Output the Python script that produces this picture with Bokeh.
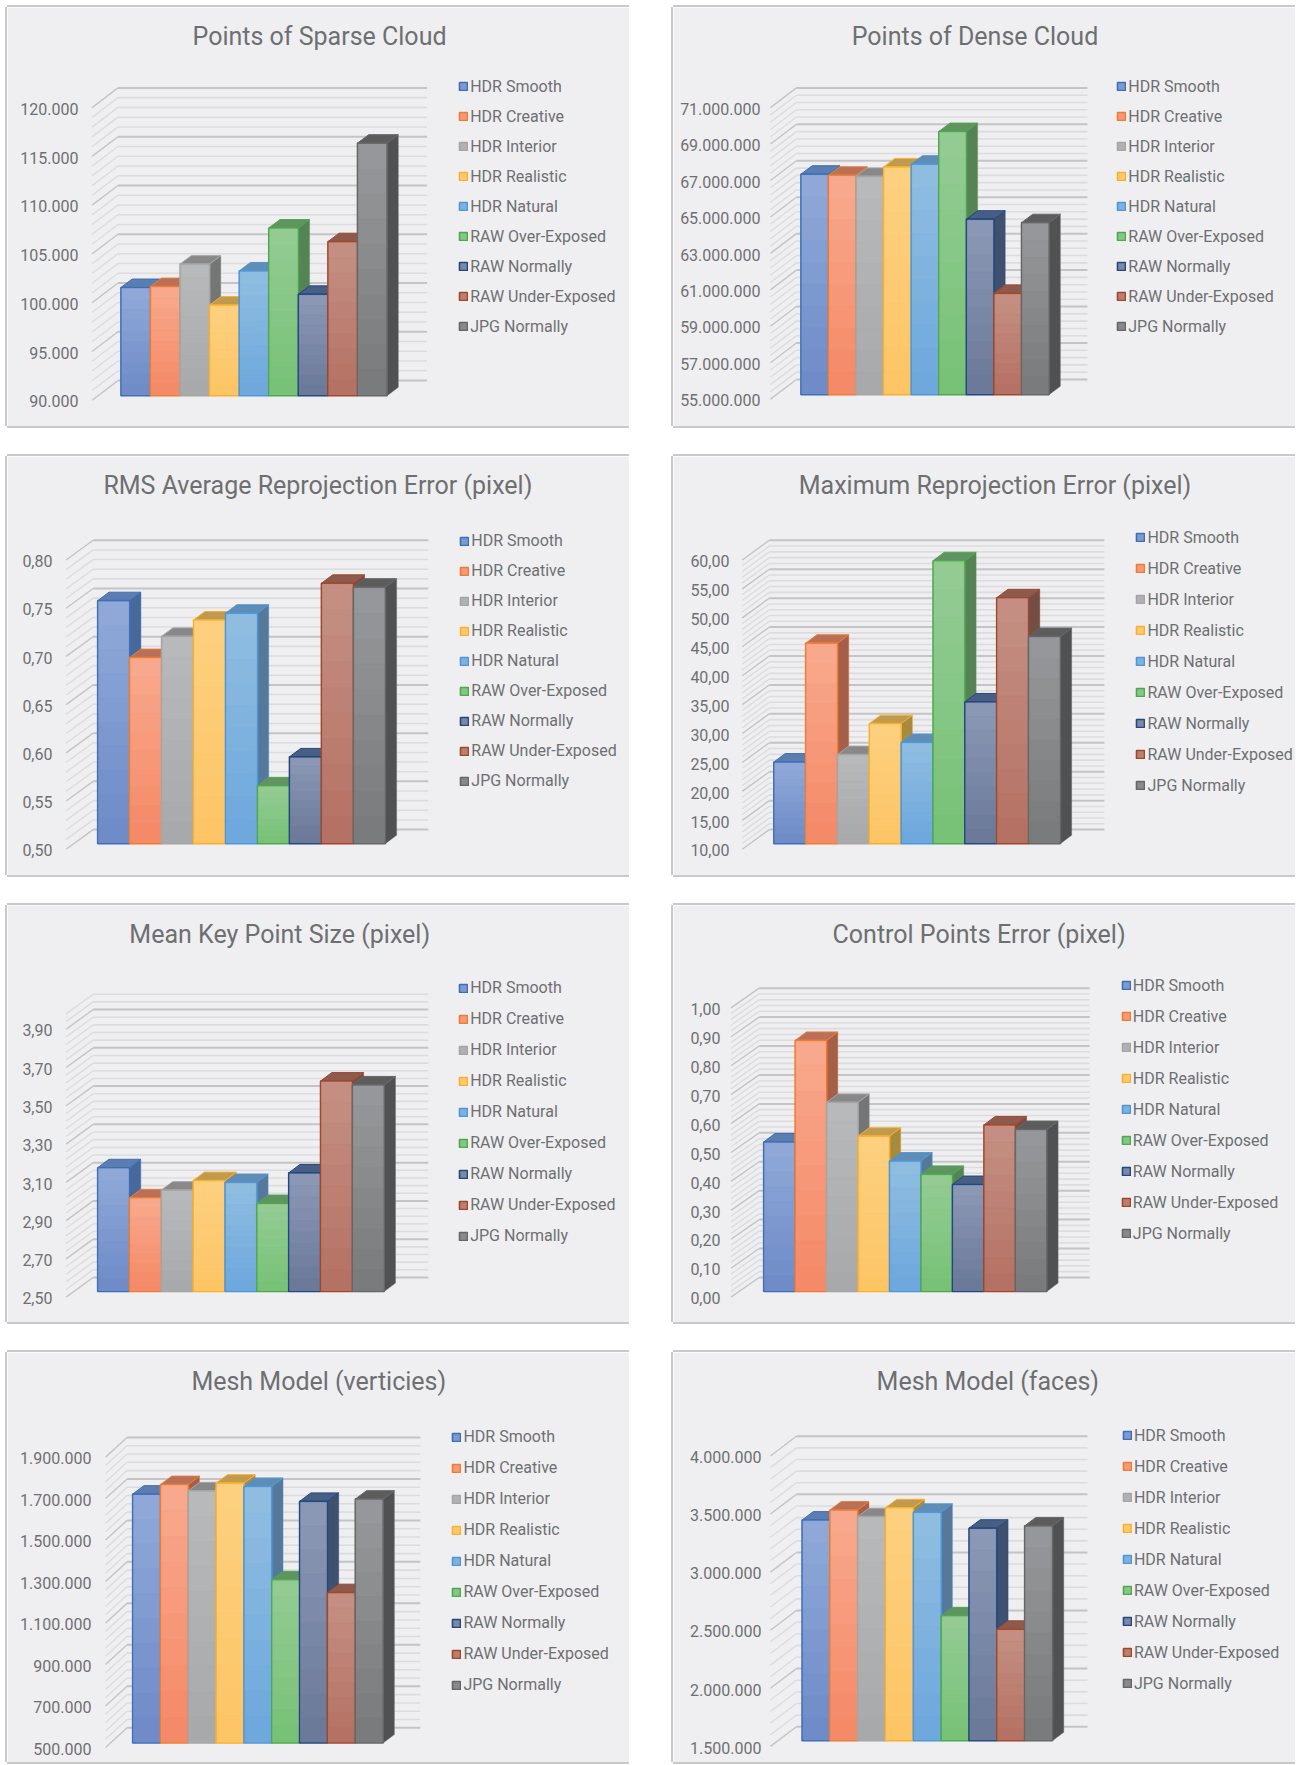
from bokeh.plotting import figure
from bokeh.models import Range1d, FixedTicker, Legend, LegendItem, Spacer, ColumnDataSource
from bokeh.layouts import row, column
from bokeh.embed import file_html
from bokeh.resources import INLINE

series = ["HDR Smooth", "HDR Creative", "HDR Interior", "HDR Realistic", "HDR Natural",
          "RAW Over-Exposed", "RAW Normally", "RAW Under-Exposed", "JPG Normally"]

sparse_values = [101100, 101200, 103500, 99300, 102800, 107200, 100400, 105800, 115900]
sparse_ticks = [90000, 95000, 100000, 105000, 110000, 115000, 120000]
sparse_labels = ["90.000", "95.000", "100.000", "105.000", "110.000", "115.000", "120.000"]

dense_values = [67100000, 67040000, 66980000, 67500000, 67650000, 69440000, 64630000, 60560000, 64440000]
dense_ticks = [55000000, 57000000, 59000000, 61000000, 63000000, 65000000, 67000000, 69000000, 71000000]
dense_labels = ["55.000.000", "57.000.000", "59.000.000", "61.000.000", "63.000.000",
                "65.000.000", "67.000.000", "69.000.000", "71.000.000"]

rms_values = [0.752, 0.693, 0.715, 0.732, 0.739, 0.56, 0.59, 0.77, 0.766]
rms_ticks = [0.5, 0.55, 0.6, 0.65, 0.7, 0.75, 0.8]
rms_labels = ["0,50", "0,55", "0,60", "0,65", "0,70", "0,75", "0,80"]

max_values = [24.1, 44.65, 25.4, 30.75, 27.5, 58.9, 34.5, 52.5, 45.8]
max_ticks = [10, 15, 20, 25, 30, 35, 40, 45, 50, 55, 60]
max_labels = ["10,00", "15,00", "20,00", "25,00", "30,00", "35,00", "40,00", "45,00", "50,00", "55,00", "60,00"]

key_values = [3.147, 2.99, 3.03, 3.08, 3.07, 2.96, 3.12, 3.6, 3.58]
key_ticks = [2.5, 2.7, 2.9, 3.1, 3.3, 3.5, 3.7, 3.9]
key_labels = ["2,50", "2,70", "2,90", "3,10", "3,30", "3,50", "3,70", "3,90"]

control_values = [0.517, 0.868, 0.654, 0.537, 0.451, 0.405, 0.37, 0.576, 0.56]
control_ticks = [0.0, 0.1, 0.2, 0.3, 0.4, 0.5, 0.6, 0.7, 0.8, 0.9, 1.0]
control_labels = ["0,00", "0,10", "0,20", "0,30", "0,40", "0,50", "0,60", "0,70", "0,80", "0,90", "1,00"]

vert_values = [1700000, 1746000, 1716000, 1753000, 1737000, 1287000, 1665000, 1225000, 1676000]
vert_ticks = [500000, 700000, 900000, 1100000, 1300000, 1500000, 1700000, 1900000]
vert_labels = ["500.000", "700.000", "900.000", "1.100.000", "1.300.000", "1.500.000", "1.700.000", "1.900.000"]

faces_values = [3400000, 3486000, 3430000, 3506000, 3467000, 2576000, 3330000, 2460000, 3350000]
faces_ticks = [1500000, 2000000, 2500000, 3000000, 3500000, 4000000]
faces_labels = ["1.500.000", "2.000.000", "2.500.000", "3.000.000", "3.500.000", "4.000.000"]

grad_top = ["#8fa8d8", "#f8a88c", "#b8b9bb", "#fdd07f", "#8fbde0", "#93cb93", "#8a97b5", "#c48f82", "#96979a"]
grad_bot = ["#6f8cc8", "#f58a68", "#a8a9ab", "#fdc566", "#6ea8dd", "#78c278", "#6c7a9a", "#b57264", "#7a7b7c"]
edge = ["#3d6fb8", "#ed7d31", "#a5a5a5", "#fbb02a", "#4d96d8", "#4ea84e", "#23477f", "#9e482a", "#666666"]
top_face = ["#5b7db0", "#b87058", "#888888", "#c09a4e", "#5f8db5", "#5f9460", "#485f85", "#8e5a4e", "#5c5c5c"]
side_face = ["#46689a", "#a55f48", "#747575", "#a68a3e", "#56789a", "#558355", "#40516f", "#744e44", "#505152"]

BG = "#efeff1"
TXT = "#6e6f71"
SX = 1303 / 1155
SY = 1765 / 1568
TOP_PAD = 45
SLICES = 10
BAR_DX, BAR_DY = 10 * SX, 7.5 * SY
WALL_DY = 17.5 * SY
NUDGE = 1.2  # marks sit this many pixels up and to the left of the label positions


def lerp_hex(a, b, t):
    ca = [int(a[i:i + 2], 16) for i in (1, 3, 5)]
    cb = [int(b[i:i + 2], 16) for i in (1, 3, 5)]
    return "#%02x%02x%02x" % tuple(round(x + (y - x) * t) for x, y in zip(ca, cb))


def panel(title, values, ticks, labels, height, g):
    L, R, T = g["L"], g["R"], g["T"]
    width = round((R - L) * SX)
    frame_left = round((g["lbl"] + 1 - L) * SX)
    px = lambda v: (v - L) * SX          # horizontal pixel inside the panel
    py = lambda v: (v - T) * SY          # vertical pixel inside the panel
    lo, hi = py(g["lo"]), py(g["hi"])
    dpp = (ticks[-1] - ticks[0]) / (lo - hi)
    y0 = ticks[0] - (height - lo) * dpp
    y1 = ticks[-1] + (hi - TOP_PAD) * dpp
    bw = (px(g["barR"]) - px(g["barL"])) / len(values)
    x_of = lambda p: (p - px(g["barL"]) + NUDGE) / bw  # bars are one unit wide
    x0, x1 = x_of(frame_left), x_of(width)

    p = figure(width=width, height=height, x_range=Range1d(x0, x1), y_range=Range1d(y0, y1),
               x_axis_location=None, output_backend="svg", toolbar_location=None,
               min_border_left=frame_left, min_border_right=0, min_border_bottom=0,
               min_border_top=TOP_PAD, background_fill_color=BG, border_fill_color=BG,
               outline_line_color=BG, outline_line_width=2, title=title,
               styles={"box-shadow": "0 -2px 0 #c9c9cb, -2px 0 0 #c9c9cb, 0 2px 0 #c9c9cb"})
    p.grid.visible = False
    p.title.align = "left"
    p.title.offset = px(g["title"]) - frame_left
    p.title.text_font = "Roboto"
    p.title.text_font_style = "normal"
    p.title.text_font_size = "25px"
    p.title.text_color = TXT
    p.title.standoff = 3

    ax = p.yaxis[0]
    ax.ticker = FixedTicker(ticks=ticks)
    ax.major_label_overrides = dict(zip(ticks, labels))
    ax.major_label_text_font = "Roboto"
    ax.major_label_text_font_size = "16px"
    ax.major_label_text_color = TXT
    ax.major_label_standoff = 2
    ax.major_tick_line_color = None
    ax.major_tick_in = 0
    ax.major_tick_out = 0
    ax.minor_tick_line_color = None
    ax.axis_line_color = None

    # back wall and left wall rulings, five steps per labelled interval
    wx_f, wx_b, wx_r = x_of(px(g["front"]) - NUDGE), x_of(px(g["back"]) - NUDGE), x_of(px(g["gridR"]) - NUDGE)
    wdy = WALL_DY * dpp
    up = NUDGE * dpp
    step = (ticks[1] - ticks[0]) / 5
    levels = []
    for a, b in zip(ticks[:-1], ticks[1:]):
        levels += [(a + (b - a) * k / 5, k == 0) for k in range(5)]
    levels.append((ticks[-1], True))
    levels += [(ticks[-1] + step * (k + 1), False) for k in range(g.get("extra", 0))]
    for major in (False, True):
        ys = [v + up for v, m in levels if m == major]
        color = "#c4c4c6" if major else "#dcdcde"
        p.segment([wx_b] * len(ys), [v + wdy for v in ys], [wx_r] * len(ys), [v + wdy for v in ys],
                  line_color=color, line_width=2 if major else 1.6)
        p.segment([wx_f] * len(ys), ys, [wx_b] * len(ys), [v + wdy for v in ys],
                  line_color=color, line_width=1.4)

    inset = (lo - py(g["base"])) * dpp + up
    base = ticks[0] + inset
    ddx, ddy = BAR_DX / bw, BAR_DY * dpp
    pad = 1.0 / bw
    items = []
    for i, v in enumerate(values):
        t = v + inset
        p.patch([i + 1, i + 1 + ddx, i + 1 + ddx, i + 1], [base, base + ddy, t + ddy, t],
                fill_color=side_face[i], line_color=edge[i], line_width=0.8, line_alpha=0.5)
        p.patch([i, i + ddx, i + 1 + ddx, i + 1], [t, t + ddy, t + ddy, t],
                fill_color=top_face[i], line_color=edge[i], line_width=1)
        r = p.vbar(x=i + 0.5, width=1, bottom=base, top=t, fill_color=lerp_hex(grad_top[i], grad_bot[i], 0.5),
                   line_color=edge[i], line_width=1.6)
        items.append(LegendItem(label=series[i], renderers=[r]))
        m = pad * dpp * bw
        edges = [t - m + (base + m - t + m) * k / SLICES for k in range(SLICES + 1)]
        src = ColumnDataSource(dict(top=edges[:-1], bottom=edges[1:],
                                    c=[lerp_hex(grad_top[i], grad_bot[i], k / (SLICES - 1)) for k in range(SLICES)]))
        p.quad(left=i + pad, right=i + 1 - pad, top="top", bottom="bottom", fill_color="c",
               line_color="c", line_width=0.3, source=src)

    rows = len(series)
    label_h = 20
    pitch = (g["rowN"] - g["row1"]) * SY / (rows - 1)
    spacing = round(pitch - label_h)
    total = rows * label_h + (rows - 1) * spacing
    top_px = py((g["row1"] + g["rowN"]) / 2) - total / 2
    frame_h = height - TOP_PAD
    leg = Legend(items=items, location=(px(g["leg"]) - NUDGE - frame_left, frame_h - (top_px - TOP_PAD) - total),
                 orientation="vertical", background_fill_alpha=0, border_line_color=None,
                 margin=0, padding=0, spacing=spacing, glyph_width=10, glyph_height=10,
                 label_standoff=2, label_height=label_h, label_text_font="Roboto",
                 label_text_font_size="16px", label_text_color=TXT)
    p.add_layout(leg, "center")
    return p


G = {
    "sparse": dict(L=6, R=557, T=6, lbl=70, lo=356, hi=96, base=352, barL=107.6, barR=343.5, front=82, back=105, gridR=379, leg=407, row1=78, rowN=288, title=170),
    "dense": dict(L=597, R=1148, T=6, lbl=675, lo=355, hi=96, base=351, barL=711, barR=931, front=684, back=707, gridR=965, leg=991, row1=78, rowN=288, title=755),
    "rms": dict(L=6, R=557, T=405, lbl=47, lo=755, hi=498, base=750, barL=87, barR=342, front=59, back=83, gridR=380, leg=408, row1=479, rowN=695, title=91),
    "max": dict(L=597, R=1148, T=405, lbl=647, lo=755, hi=498, base=750, barL=687, barR=941, front=659, back=683, gridR=980, leg=1008, row1=479, rowN=696, title=708),
    "key": dict(L=6, R=557, T=804, lbl=47, lo=1153, hi=915, base=1148, barL=87, barR=341, front=59, back=83, gridR=380, leg=407, row1=879, rowN=1096, title=114, extra=2),
    "control": dict(L=597, R=1148, T=804, lbl=639, lo=1153, hi=896, base=1148, barL=678, barR=929, front=649, back=674, gridR=967, leg=995, row1=877, rowN=1094, title=738),
    "vert": dict(L=6, R=557, T=1200, lbl=81, lo=1552, hi=1294, base=1548, barL=118, barR=340, front=94, back=113, gridR=373, leg=401, row1=1276, rowN=1495, title=169),
    "faces": dict(L=597, R=1148, T=1200, lbl=676, lo=1551, hi=1293, base=1546, barL=712, barR=934, front=684, back=707, gridR=965, leg=996, row1=1275, rowN=1493, title=777),
}

p1 = panel("Points of Sparse Cloud", sparse_values, sparse_ticks, sparse_labels, 419, G["sparse"])
p2 = panel("Points of Dense Cloud", dense_values, dense_ticks, dense_labels, 419, G["dense"])
p3 = panel("RMS Average Reprojection Error (pixel)", rms_values, rms_ticks, rms_labels, 419, G["rms"])
p4 = panel("Maximum Reprojection Error (pixel)", max_values, max_ticks, max_labels, 419, G["max"])
p5 = panel("Mean Key Point Size (pixel)", key_values, key_ticks, key_labels, 417, G["key"])
p6 = panel("Control Points Error  (pixel)", control_values, control_ticks, control_labels, 417, G["control"])
p7 = panel("Mesh Model (verticies)", vert_values, vert_ticks, vert_labels, 410, G["vert"])
p8 = panel("Mesh Model (faces)", faces_values, faces_ticks, faces_labels, 410, G["faces"])

GAP_X = 44
page = column(
    row(p1, Spacer(width=GAP_X), p2),
    Spacer(height=30),
    row(p3, Spacer(width=GAP_X), p4),
    Spacer(height=30),
    row(p5, Spacer(width=GAP_X), p6),
    Spacer(height=30),
    row(p7, Spacer(width=GAP_X), p8),
    margin=(7, 0, 0, 7),
)
open("out.html", "w").write(file_html(page, INLINE))
